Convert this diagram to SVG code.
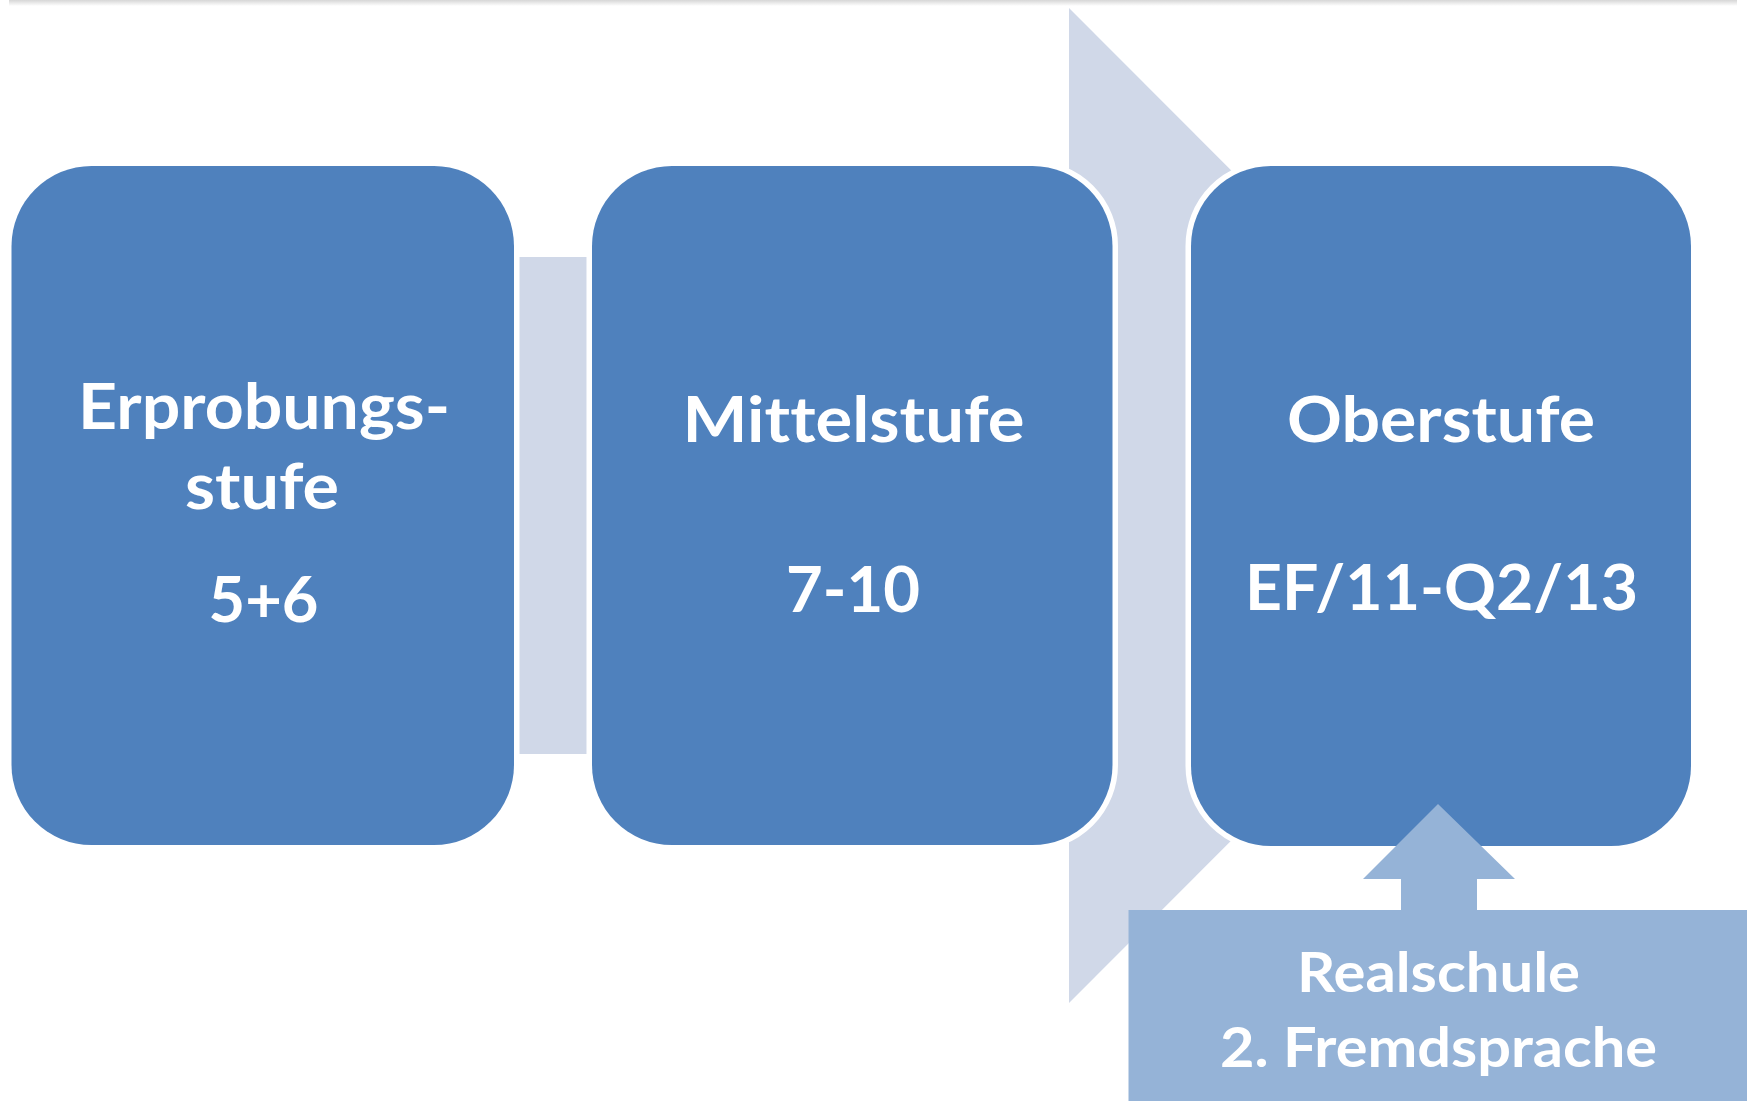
<svg xmlns="http://www.w3.org/2000/svg" width="1750" height="1101" viewBox="0 0 1750 1101">
  <defs>
    <linearGradient id="shadow" x1="0" y1="0" x2="0" y2="1">
      <stop offset="0" stop-color="#d6d6d6"/>
      <stop offset="1" stop-color="#ffffff"/>
    </linearGradient>
    <style>
      .box { fill: #4F81BD; stroke: #ffffff; stroke-width: 11; paint-order: stroke; }
      .conn { fill: #D0D8E8; }
      .note { fill: #95B3D7; }
      .lbl { font-family: Lato, "Open Sans", "Liberation Sans", sans-serif; font-weight: bold; fill: #ffffff; text-anchor: middle; font-variant-ligatures: none; font-feature-settings: "liga" 0, "clig" 0; }
      .big { font-size: 64px; }
      .small { font-size: 56px; }
    </style>
  </defs>
  <rect width="1750" height="1101" fill="#ffffff"/>
  <rect x="9" y="0" width="1728" height="6" fill="url(#shadow)"/>

  <g id="connectors">
    <polygon class="conn" points="1069,8 1566,505.5 1069,1003"/>
    <rect class="conn" x="519" y="257" width="68" height="497"/>
  </g>

  <g id="node-erprobungsstufe">
    <rect class="box" x="11.5" y="166" width="502.5" height="679" rx="80" ry="80"/>
    <text class="lbl big" x="264" y="429" textLength="372" lengthAdjust="spacingAndGlyphs">Erprobungs-</text>
    <text class="lbl big" x="262" y="509" textLength="154" lengthAdjust="spacingAndGlyphs">stufe</text>
    <text class="lbl big" x="263.5" y="622" textLength="110" lengthAdjust="spacingAndGlyphs">5+6</text>
  </g>

  <g id="node-mittelstufe">
    <rect class="box" x="592" y="166" width="520.5" height="679" rx="80" ry="80"/>
    <text class="lbl big" x="853.5" y="442" textLength="342" lengthAdjust="spacingAndGlyphs">Mittelstufe</text>
    <text class="lbl big" x="853" y="612" textLength="134" lengthAdjust="spacingAndGlyphs">7-10</text>
  </g>

  <g id="node-oberstufe">
    <rect class="box" x="1191" y="166" width="500" height="680" rx="80" ry="80"/>
    <text class="lbl big" x="1441" y="442" textLength="308" lengthAdjust="spacingAndGlyphs">Oberstufe</text>
    <text class="lbl big" x="1441.5" y="610" textLength="393" lengthAdjust="spacingAndGlyphs">EF/11-Q2/13</text>
  </g>

  <g id="node-realschule">
    <polygon class="note" points="1438,804 1515,879 1477,879 1477,912 1401,912 1401,879 1363,879"/>
    <rect class="note" x="1128.5" y="910" width="618.5" height="191"/>
    <text class="lbl small" x="1438.5" y="992" textLength="283" lengthAdjust="spacingAndGlyphs">Realschule</text>
    <text class="lbl small" x="1438.5" y="1067" textLength="437" lengthAdjust="spacingAndGlyphs">2. Fremdsprache</text>
  </g>
</svg>
